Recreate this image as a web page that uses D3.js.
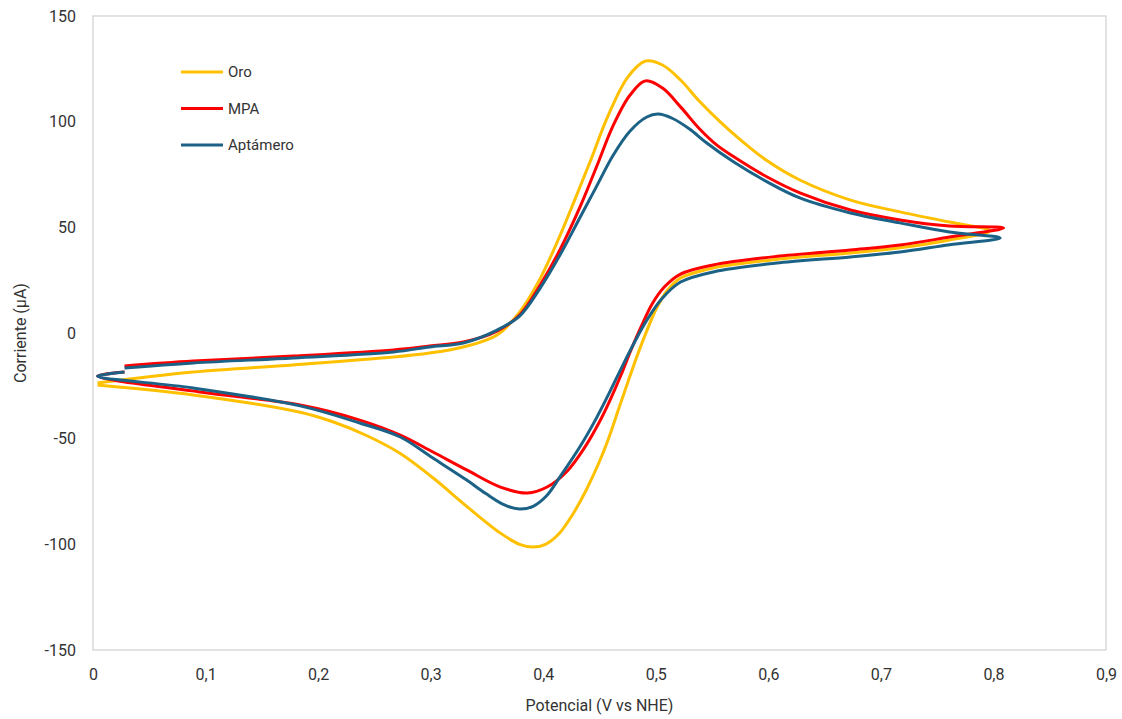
<!DOCTYPE html>
<html>
<head>
<meta charset="utf-8">
<script src="https://cdn.jsdelivr.net/npm/d3@7"></script>
<style>
  body { margin: 0; background: #fff; }
  text { font-family: Roboto, "Liberation Sans", sans-serif; fill: #333; }
</style>
</head>
<body>
<script>
// Cyclic voltammograms, potential (V vs NHE) vs current (µA)
// each loop: forward scan (upper branch) then reverse scan (lower branch)
const oro = [
  [0.004, -23.7], [0.089, -18.5], [0.178, -15.1], [0.267, -11.4], [0.299, -9.5],
  [0.329, -6.6], [0.359, -0.9], [0.379, 9.9], [0.397, 25.5], [0.414, 45.0],
  [0.428, 63.0], [0.442, 81.5], [0.457, 102.0], [0.475, 121.0], [0.491, 128.7],
  [0.506, 126.8], [0.522, 119.7], [0.539, 109.5], [0.557, 100.0], [0.575, 91.5],
  [0.599, 81.5], [0.628, 72.4], [0.673, 62.9], [0.717, 57.3], [0.761, 52.5],
  [0.797, 48.3],
  [0.761, 44.0], [0.717, 40.3], [0.673, 37.9], [0.610, 35.0], [0.551, 30.8],
  [0.522, 26.0], [0.510, 20.0], [0.500, 11.0], [0.492, 1.0], [0.484, -10.0],
  [0.476, -22.0], [0.467, -36.0], [0.458, -50.0], [0.449, -62.0], [0.438, -74.5],
  [0.426, -86.0], [0.414, -95.0], [0.402, -100.0], [0.391, -101.3], [0.379, -100.0],
  [0.362, -94.7], [0.332, -82.0], [0.302, -68.5], [0.273, -57.0], [0.243, -48.5],
  [0.213, -42.0], [0.184, -37.5], [0.089, -29.3], [0.004, -24.6]
];

const mpa = [
  [0.028, -15.6], [0.089, -13.3], [0.178, -10.9], [0.267, -8.0], [0.299, -6.2],
  [0.329, -4.3], [0.359, 0.9], [0.379, 8.5], [0.397, 22.5], [0.415, 39.5],
  [0.433, 60.0], [0.448, 79.5], [0.462, 98.0], [0.477, 112.5], [0.491, 119.3],
  [0.506, 115.9], [0.522, 107.0], [0.539, 96.5], [0.554, 89.0], [0.569, 83.5],
  [0.599, 73.8], [0.628, 66.3], [0.673, 58.2], [0.717, 53.5], [0.761, 50.6],
  [0.809, 49.7],
  [0.761, 45.4], [0.717, 41.6], [0.673, 39.3], [0.610, 36.4], [0.551, 32.2],
  [0.522, 27.9], [0.508, 22.0], [0.497, 14.0], [0.487, 3.0], [0.478, -8.0],
  [0.469, -20.0], [0.460, -31.0], [0.450, -42.0], [0.437, -54.0], [0.421, -65.5],
  [0.403, -73.0], [0.386, -75.7], [0.362, -72.9], [0.332, -64.8], [0.302, -56.3],
  [0.273, -48.3], [0.237, -41.2], [0.184, -34.1], [0.095, -27.9], [0.004, -20.4],
  [0.028, -18.5]
];

const aptamero = [
  [0.028, -16.6], [0.089, -14.2], [0.178, -11.8], [0.267, -9.0], [0.299, -6.6],
  [0.329, -4.7], [0.359, 1.4], [0.379, 8.0], [0.397, 21.0], [0.415, 37.0],
  [0.433, 55.0], [0.448, 70.0], [0.462, 84.0], [0.477, 95.5], [0.492, 102.2],
  [0.502, 103.6], [0.515, 101.5], [0.530, 96.5], [0.545, 90.0], [0.569, 81.0],
  [0.599, 71.5], [0.628, 63.9], [0.673, 56.8], [0.717, 52.1], [0.761, 47.8],
  [0.806, 45.0],
  [0.761, 41.8], [0.717, 38.3], [0.673, 36.0], [0.610, 33.2], [0.551, 28.9],
  [0.522, 24.1], [0.505, 16.0], [0.492, 6.0], [0.481, -4.5], [0.470, -16.0],
  [0.459, -28.0], [0.447, -40.5], [0.433, -53.5], [0.415, -68.0], [0.403, -77.0],
  [0.391, -82.0], [0.379, -83.3], [0.366, -81.5], [0.349, -76.0], [0.332, -69.6],
  [0.302, -59.2], [0.273, -49.2], [0.237, -42.6], [0.184, -34.5], [0.089, -26.0],
  [0.004, -20.4], [0.028, -18.5]
];

const seriesNames = ["Oro", "MPA", "Aptámero"];
const seriesColors = ["#ffc000", "#ff0000", "#1b6286"];
const xTicks = [0, 0.1, 0.2, 0.3, 0.4, 0.5, 0.6, 0.7, 0.8, 0.9];
const yTicks = [-150, -100, -50, 0, 50, 100, 150];

const width = 1122,
    height = 719;
const margin = {top: 16, right: 16, bottom: 69, left: 93};
const innerW = width - margin.left - margin.right,
    innerH = height - margin.top - margin.bottom;

const svg = d3.select("body").append("svg")
    .attr("width", width)
    .attr("height", height);

const x = d3.scaleLinear().domain([0, 0.9]).range([0, innerW]);
const y = d3.scaleLinear().domain([-150, 150]).range([innerH, 0]);

const g = svg.append("g")
    .attr("transform", `translate(${margin.left},${margin.top})`);

// plot frame
g.append("rect")
    .attr("width", innerW)
    .attr("height", innerH)
    .attr("fill", "none")
    .attr("stroke", "#d0d0d0")
    .attr("stroke-width", 1.2);

// decimal comma, plain hyphen for negatives
const fmt = d => d3.format("~g")(d).replace(".", ",").replace("−", "-");

const xAxis = g.append("g")
    .attr("transform", `translate(0,${innerH})`)
    .call(d3.axisBottom(x).tickValues(xTicks).tickSize(0).tickPadding(19).tickFormat(fmt));
const yAxis = g.append("g")
    .call(d3.axisLeft(y).tickValues(yTicks).tickSize(0).tickPadding(17).tickFormat(fmt));

[xAxis, yAxis].forEach(a => {
  a.select(".domain").remove();
  a.selectAll("text").style("font-size", "16px").attr("fill", "#333");
});

// axis titles
svg.append("text")
    .attr("x", margin.left + innerW / 2)
    .attr("y", 711)
    .attr("text-anchor", "middle")
    .style("font-size", "16px")
    .text("Potencial (V vs NHE)");

svg.append("text")
    .attr("transform", `translate(26,${margin.top + innerH / 2}) rotate(-90)`)
    .attr("text-anchor", "middle")
    .style("font-size", "16px")
    .text("Corriente (µA)");

// curves
const line = d3.line()
    .x(d => x(d[0]))
    .y(d => y(d[1]))
    .curve(d3.curveCatmullRom.alpha(0.5));

[oro, mpa, aptamero].forEach((s, i) => {
  g.append("path")
      .datum(s)
      .attr("fill", "none")
      .attr("stroke", seriesColors[i])
      .attr("stroke-width", 3)
      .attr("stroke-linejoin", "round")
      .attr("d", line);
});

// legend
const legend = svg.append("g")
    .attr("transform", "translate(181,72)");

seriesNames.forEach((name, i) => {
  const row = legend.append("g").attr("transform", `translate(0,${i * 36.5})`);
  row.append("line")
      .attr("x1", 0).attr("x2", 42)
      .attr("stroke", seriesColors[i])
      .attr("stroke-width", 3);
  row.append("text")
      .attr("x", 47)
      .attr("dy", "0.35em")
      .style("font-size", "15px")
      .text(name);
});
</script>
</body>
</html>
